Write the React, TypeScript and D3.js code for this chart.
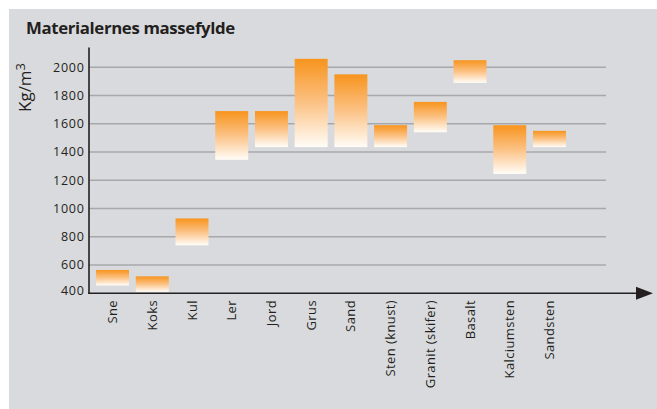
import React from "react";
import * as d3 from "d3";

const categories = ["Sne", "Koks", "Kul", "Ler", "Jord", "Grus", "Sand", "Sten (knust)", "Granit (skifer)", "Basalt", "Kalciumsten", "Sandsten"];
const lowValues = [455, 410, 740, 1345, 1435, 1435, 1435, 1435, 1540, 1890, 1245, 1435];
const highValues = [565, 520, 930, 1690, 1690, 2060, 1950, 1590, 1755, 2050, 1590, 1550];
const yTicks = [400, 600, 800, 1000, 1200, 1400, 1600, 1800, 2000];
const title = "Materialernes massefylde";

const W = 657;
const H = 409;
const axisX = 89;
const axisY = 293.3;
const gridEnd = 606;
const FONT = "'Open Sans', 'Noto Sans', sans-serif";

export default function App() {
  const y = d3.scaleLinear().domain([400, 2000]).range([axisY, 67.3]);
  const x = d3
    .scaleBand<string>()
    .domain(categories)
    .range([92.7, 92.7 + 12 * 39.72])
    .paddingInner(0.17)
    .paddingOuter(0.085);

  return (
    <svg width={W} height={H} style={{ position: "absolute", left: 0, top: 0 }} xmlns="http://www.w3.org/2000/svg">
      <defs>
        <linearGradient id="barGrad" x1="0" y1="0" x2="0" y2="1">
          <stop offset="0" stopColor="#f7941d" />
          <stop offset="0.5" stopColor="#fcc285" />
          <stop offset="1" stopColor="#fffdf8" />
        </linearGradient>
      </defs>
      <rect x={0} y={0} width={W} height={H} fill="#ffffff" />
      <rect x={9} y={9} width={W - 9} height={H - 9} fill="#d9dadd" />
      <text x={26} y={33.5} fontFamily={FONT} fontWeight="bold" fontSize={16.8} fill="#231f20" letterSpacing={-0.35}>
        {title}
      </text>
      {yTicks.slice(1).map((t) => (
        <line key={t} x1={axisX} x2={gridEnd} y1={y(t)} y2={y(t)} stroke="#a7a8ac" strokeWidth={1.6} />
      ))}
      {yTicks.map((t) => (
        <text key={t} x={84.5} y={y(t) - (t === 400 ? 3 : 0)} dy="0.35em" textAnchor="end" fontFamily={FONT} fontSize={12.5} letterSpacing={0.7} fill="#231f20">
          {t}
        </text>
      ))}
      <text transform="translate(31,112) rotate(-90)" fontFamily={FONT} fontSize={17} fill="#231f20">
        Kg/m<tspan dy={-6} fontSize={13}>3</tspan>
      </text>
      {categories.map((c, i) => (
        <rect
          key={c}
          x={x(c)}
          width={x.bandwidth()}
          y={y(highValues[i])}
          height={y(lowValues[i]) - y(highValues[i])}
          fill="url(#barGrad)"
        />
      ))}
      <line x1={axisX} x2={axisX} y1={47.5} y2={axisY + 0.8} stroke="#231f20" strokeWidth={1.6} />
      <line x1={axisX - 0.8} x2={640} y1={axisY} y2={axisY} stroke="#231f20" strokeWidth={1.6} />
      <path d={`M636,${axisY - 6.5} L653,${axisY} L636,${axisY + 6.5} Z`} fill="#231f20" />
      {categories.map((c) => {
        const cx = (x(c) as number) + x.bandwidth() / 2;
        return (
          <text
            key={c}
            transform={`translate(${cx + 4.5},300) rotate(-90)`}
            textAnchor="end"
            fontFamily={FONT}
            fontSize={13}
            letterSpacing={0.4}
            fill="#231f20"
          >
            {c}
          </text>
        );
      })}
    </svg>
  );
}
